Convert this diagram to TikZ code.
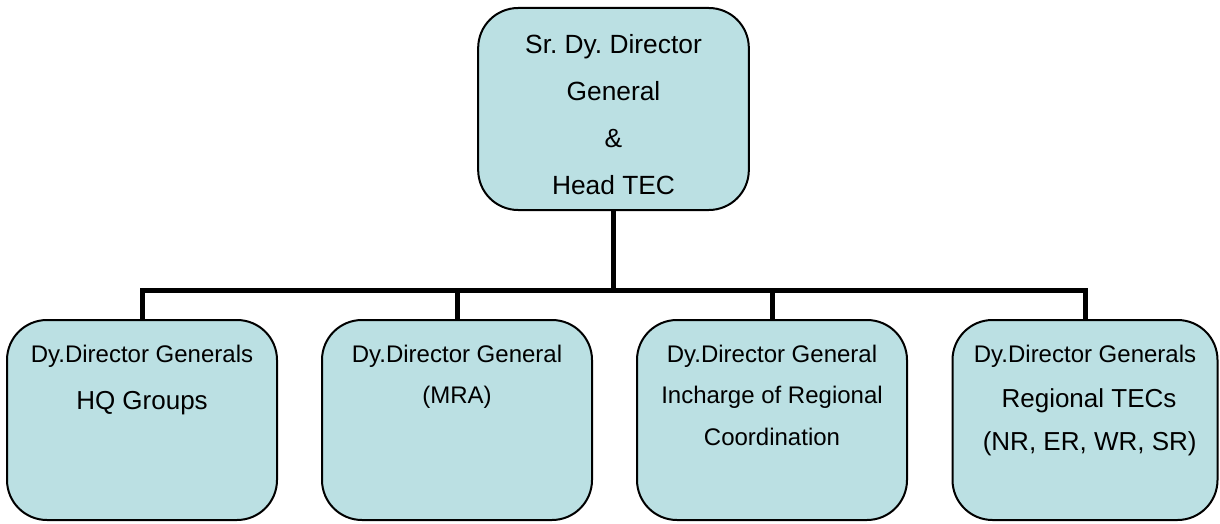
\documentclass[tikz,border=0pt]{standalone}
\usepackage{fontspec}
\setmainfont{Liberation Sans}
\usetikzlibrary{positioning}
\definecolor{boxfill}{HTML}{BBE0E3}
\frenchspacing
\newcommand{\smallsz}{\fontsize{18}{31}\selectfont}
\newcommand{\bigsz}{\fontsize{19.75}{35.25}\selectfont}

\begin{document}
\begin{tikzpicture}[x=0.75pt, y=-0.75pt,
	box/.style={draw=black, line width=1.5pt, fill=boxfill, rounded corners=30pt,
		minimum width=202.5pt, minimum height=150pt, inner sep=0pt},
	txt/.style={inner sep=0pt, align=center, anchor=north, font=\smallsz},
	conn/.style={line width=3.75pt}]

\useasboundingbox (0,0) rectangle (1220,524);

%========================
% Top: head of the centre
%========================
\node[box, minimum width=203pt, minimum height=151.5pt] (head) at (613.5,109) {};
\node[txt, font=\bigsz] (headtxt) at ([yshift=-20pt]head.north)
	{Sr. Dy. Director\\General\\\&\\Head TEC};

%========================
% Bottom: deputy directors
%========================
\node[box] (hq)   at (142,420) {};
\node[box] (mra)  at (457,420) {};
\node[box] (reg)  at (772,420) {};
\node[box, minimum width=198.75pt] (rtec) at (1085,420) {};

\node[txt] (hqtxt) at ([yshift=-19.5pt]hq.north)
	{Dy.Director Generals\\[4.25pt]{\fontsize{19.5}{31}\selectfont HQ Groups}};
\node[txt] (mratxt) at ([yshift=-19.5pt]mra.north)
	{Dy.Director General\\(MRA)};
\node[txt] (regtxt) at ([yshift=-19.5pt]reg.north)
	{Dy.Director General\\Incharge of Regional\\Coordination};
\node[txt] (rtectxt) at ([yshift=-19.5pt]rtec.north)
	{Dy.Director Generals\\[2.75pt]{\fontsize{19.5}{31}\selectfont\hspace*{6pt}Regional TECs}\\[1.25pt]{\fontsize{19.5}{31}\selectfont\hspace*{7pt}(NR, ER, WR, SR)}};

%========================
% Connectors
%========================
\coordinate (split) at (613.5,290);
\draw[conn] (head.south) -- (split);
\draw[conn] (hq.north) |- (split) -| (rtec.north);
\draw[conn] (mra.north) -- (mra.north |- split);
\draw[conn] (reg.north) -- (reg.north |- split);

\end{tikzpicture}
\end{document}
